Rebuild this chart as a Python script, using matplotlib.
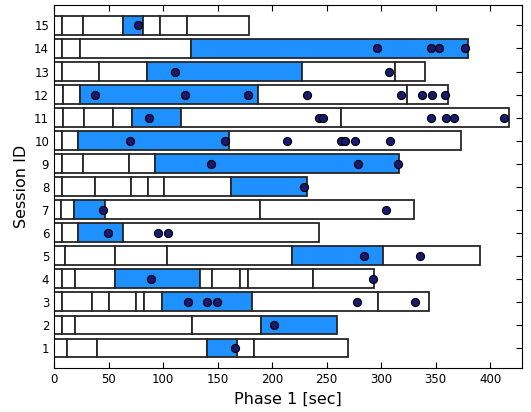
import matplotlib
matplotlib.use("Agg")
import matplotlib.pyplot as plt
import numpy as np

sessions = list(range(1, 16))

# segment boundaries per session (sec), and which segment is highlighted
boundaries = [
    [0, 12.2, 39.1, 140.7, 167.9, 183.5, 270],
    [0, 7, 19.2, 126.4, 190.2, 259.5],
    [0, 7, 34.5, 50.7, 75.1, 83, 99.5, 181.6, 297.6, 344.3],
    [0, 7, 19.2, 56.1, 134, 145, 170.3, 177.7, 237.8, 293.3],
    [0, 10, 55.6, 103.5, 218.2, 302.2, 390.7],
    [0, 7, 22.3, 62.9, 242.7],
    [0, 6.4, 18.3, 46.7, 188.6, 330],
    [0, 7.6, 37.8, 70.5, 85.8, 101, 162.7, 232.3],
    [0, 7.6, 26.2, 68.4, 92.2, 316.8],
    [0, 7, 21.7, 160.5, 373.3],
    [0, 8.5, 27.5, 53.7, 71.7, 116.9, 263.4, 417.6],
    [0, 8.5, 23.5, 187.1, 323.6, 361.7],
    [0, 7.6, 40.9, 85.4, 227.1, 312.6, 340.7],
    [0, 7, 23.8, 125.5, 379.7],
    [0, 7.6, 26.9, 62.9, 81.5, 96.8, 122.1, 178.6],
]
blue_segment = [3, 4, 6, 3, 4, 2, 2, 6, 4, 2, 4, 2, 3, 3, 3]

events = [
    [165.8],
    [202],
    [123, 140.4, 149.6, 277.8, 330.9],
    [89.1, 292.4],
    [284.8, 336],
    [49.5, 95.2, 104.7],
    [44.6, 304.6],
    [229.2],
    [144.1, 278.4, 315.3],
    [69.6, 157.2, 214, 262.8, 267.1, 275.9, 308.3],
    [87.3, 243, 246.6, 345.9, 359.6, 366.6, 413],
    [37.5, 120.3, 178.3, 232.3, 318.7, 337.3, 346.7, 359],
    [111.4, 307.7],
    [296.1, 345.9, 353.5, 376.7],
    [77.2],
]

fig = plt.figure(figsize=(5.31, 4.12), dpi=100)
ax = fig.add_axes([0.1017, 0.1068, 0.8808, 0.8811])

for sid, b, hi, ev in zip(sessions, boundaries, blue_segment, events):
    b = np.array(b)
    widths = np.diff(b)
    colors = ['white'] * len(widths)
    colors[hi] = '#1E90FF'
    ax.barh([sid] * len(widths), widths, left=b[:-1], height=0.8,
            color=colors, edgecolor='0.15', linewidth=1.3, zorder=2)
    ax.scatter(ev, [sid] * len(ev), s=34, color='#191970',
               edgecolor='black', linewidth=0.8, zorder=3)

ax.set_xlim(0, 429)
ax.set_ylim(0.12, 15.89)
ax.set_yticks(sessions)
ax.set_xticks(np.arange(0, 401, 50))
ax.tick_params(direction='in', top=True, right=True, labelsize=8.5, length=4)
ax.set_xlabel('Phase 1 [sec]', fontsize=11.5)
ax.set_ylabel('Session ID', fontsize=11.5)

fig.savefig('out.png', dpi=100)
